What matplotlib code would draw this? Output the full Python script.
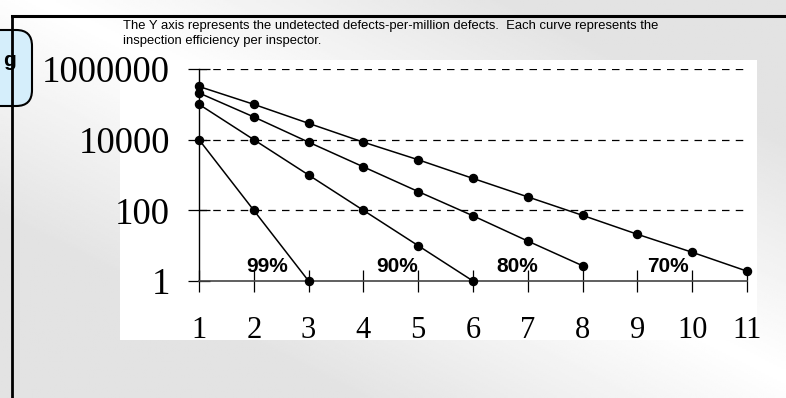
import matplotlib

matplotlib.use("Agg")
import matplotlib.pyplot as plt
import numpy as np
from matplotlib.patches import FancyBboxPatch, Rectangle

# inspection efficiency per inspector -> undetected defects per million
inspectors = [1, 2, 3, 4, 5, 6, 7, 8, 9, 10, 11]
eff_99 = [10000, 100, 1]
eff_90 = [100000, 10000, 1000, 100, 10, 1]
eff_80 = [210000, 44000, 8500, 1700, 340, 70, 13.5, 2.7]
eff_70 = [320000, 100000, 29000, 8500, 2700, 800, 240, 72, 21, 6.5, 1.9]
curves = [eff_99, eff_90, eff_80, eff_70]
curve_labels = ["99%", "90%", "80%", "70%"]

y_ticks = [1, 100, 10000, 1000000]
y_ticklabels = ["1", "100", "10000", "1000000"]
grid_levels = [100, 10000, 1000000]

note = ("The Y axis represents the undetected defects-per-million defects.  "
        "Each curve represents the\ninspection efficiency per inspector.")

# where the curve names sit (x, y in data units)
LABEL_POS = [(2.24, 2.6), (4.62, 2.6), (6.8, 2.6), (9.55, 2.6)]

SERIF = "Liberation Serif"
SANS = "Liberation Sans"

fig = plt.figure(figsize=(7.86, 3.98), dpi=100)

# ---- slide background: diagonal grey/white gradient ----------------------
bg = fig.add_axes([0, 0, 1, 1], zorder=-10)
yy, xx = np.mgrid[0:1:200j, 0:1:400j]
d = np.abs((xx - 0.05) - (yy * 1.0))  # distance from the light diagonal
shade = 1.0 - 0.11 * np.clip(d / 0.6, 0, 1)
bg.imshow(shade, cmap="gray", vmin=0, vmax=1, extent=[0, 1, 0, 1],
          aspect="auto", origin="upper")
bg.set_xlim(0, 1)
bg.set_ylim(0, 1)
bg.axis("off")

# frame lines
bg.plot([12 / 786, 1], [1 - 16 / 398, 1 - 16 / 398], color="black", lw=2.2)
bg.plot([12 / 786, 12 / 786], [0, 1 - 16 / 398], color="black", lw=2.0)

# clipped blue label box on the left
box = FancyBboxPatch((-20 / 786, 1 - 106 / 398), 52 / 786, 76 / 398,
                     boxstyle="round,pad=0,rounding_size=0.02",
                     facecolor="#d5eefb", edgecolor="black", lw=1.5,
                     transform=bg.transAxes, mutation_aspect=2.0)
bg.add_patch(box)
bg.text(9 / 786, 1 - 60 / 398, "g", fontsize=15, fontweight="bold",
        family=SANS, ha="center", va="center")

# white chart area
bg.add_patch(Rectangle((120 / 786, 1 - 340 / 398), 637 / 786, 280 / 398,
                       facecolor="white", edgecolor="none"))

bg.text(123 / 786, 1 - 20 / 398, note, fontsize=9.4, family=SANS,
        ha="left", va="top", linespacing=1.35, zorder=5)

# ---- chart ---------------------------------------------------------------
ax = fig.add_axes([199 / 786, 117 / 398, 548 / 786, 212 / 398])
ax.patch.set_alpha(0)
ax.set_yscale("log")
ax.set_xlim(1, 11)
ax.set_ylim(1, 1000000)

for lvl in grid_levels:
    ax.axhline(lvl, xmin=0, xmax=0.9965, color="black", lw=0.9,
               dashes=(6, 5), zorder=1)

for vals in curves:
    ax.plot(inspectors[:len(vals)], vals, color="black", lw=1.1,
            marker="o", ms=5.8, clip_on=False, zorder=3)

for (lx, ly), lab in zip(LABEL_POS, curve_labels):
    ax.text(lx, ly, lab, fontsize=15, fontweight="bold", family=SANS,
            ha="center", va="center", zorder=4)

for side in ["top", "right"]:
    ax.spines[side].set_visible(False)
ax.spines["left"].set_color("black")
ax.spines["bottom"].set_color("#444444")
ax.spines["left"].set_linewidth(1.0)
ax.spines["bottom"].set_linewidth(1.2)

ax.set_xticks(inspectors)
ax.set_xticklabels([str(v) for v in inspectors], family=SERIF, fontsize=22)
ax.set_yticks(y_ticks)
ax.set_yticklabels(y_ticklabels, family=SERIF, fontsize=26.5)
ax.minorticks_off()
ax.tick_params(axis="x", direction="inout", length=16, width=0.9, pad=17,
               color="black")
ax.tick_params(axis="y", direction="inout", length=16, width=0.9, pad=13,
               color="black")
ax.grid(False)

fig.savefig("out.png", dpi=100)
